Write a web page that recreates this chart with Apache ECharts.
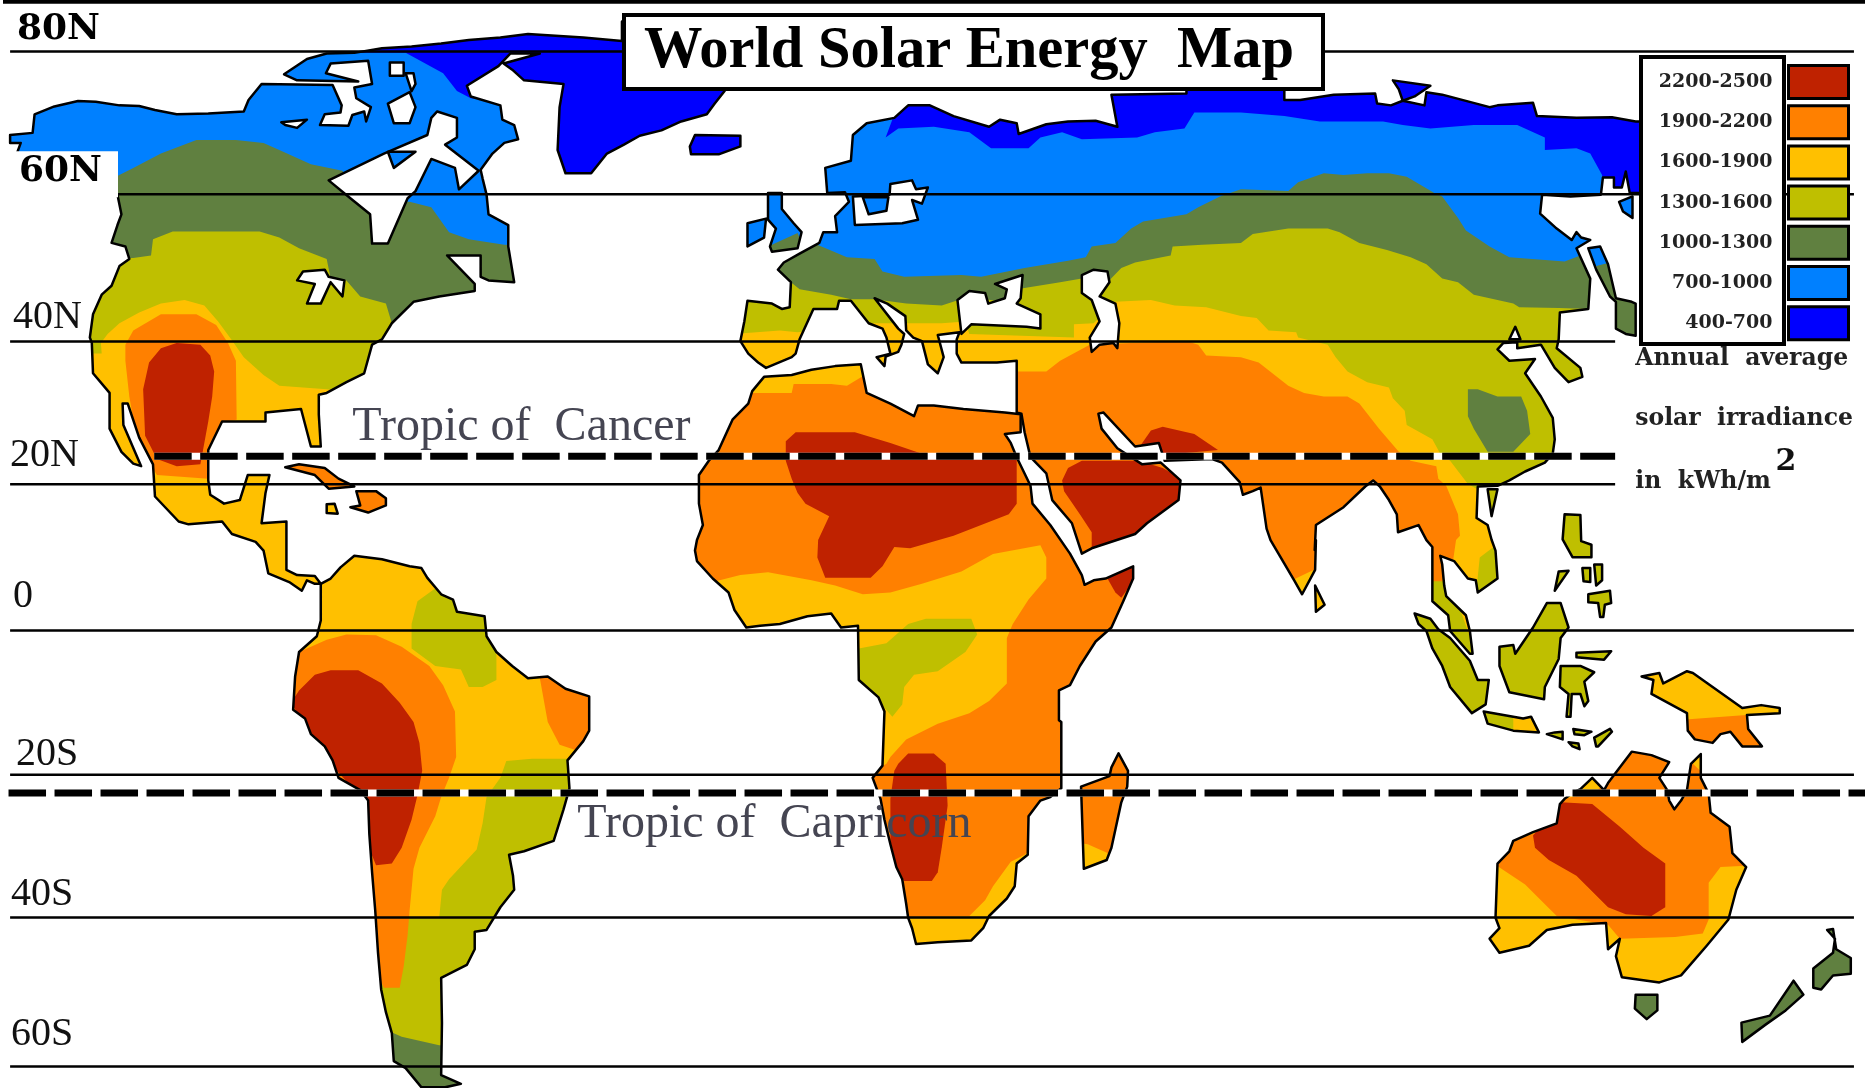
<!DOCTYPE html>
<html><head><meta charset="utf-8"><style>html,body{margin:0;padding:0;background:#fff}#c{width:1865px;height:1088px}</style>
<script src="https://cdn.jsdelivr.net/npm/echarts@6/dist/echarts.min.js"></script></head>
<body><div id="c"></div>
<script>
// Traced map sheet units: x 0..4717, y 0..3046. T() joins traced tiles into one sheet.
const T=(c,r,a)=>{const o=[];for(let i=0;i<a.length;i+=2)o.push([[0,1568,3136][c]+a[i],r?1512+a[i+1]*0.979:a[i+1]]);return o;};

const classNames=['2200-2500','1900-2200','1600-1900','1300-1600','1000-1300','700-1000','400-700'];
const parallelValues=[144,544,956,1356,1765,2169,2569,2986];
const parallelLabels=['80N','60N','40N','20N','0','20S','40S','60S'];
const parallelEnds=[4689,4689,4084,4084,4689,4689,4689,4689];
const tropicNames=['Tropic of Cancer','Tropic of Capricorn'];
const tropicValues=[1277,2220];

// Coastlines
const naCoast=[...T(0,0,[18,378,75,372,80,320,130,298,190,283,235,285,295,295,345,297,385,308,440,320,520,318,610,312,622,280,655,235,835,238,858,295,855,315,815,320,803,350,875,352,885,322,915,312,920,340,932,300,895,275,890,245,935,235,925,170,830,178,818,205,900,228,745,225,712,208,770,165,820,150,890,148,960,135,1035,130,1110,122,1180,112,1260,105,1330,95,1470,105,1568,115]),
 ...T(1,0,[0,110,0,60,240,60,260,255,235,290,215,320,150,340,100,365,45,380,5,405]),
 ...T(0,0,[1530,430,1490,485,1425,485,1405,420,1410,300,1420,235,1320,225,1290,195,1268,178,1360,150,1285,150,1255,185,1175,240,1185,270,1260,295,1265,335,1295,350,1305,390,1270,400,1240,430,1210,475,1215,500,1225,545,1230,600,1280,630,1280,690,1295,790,1230,785,1210,775,1210,715,1125,715,1195,795,1195,815,1105,830,1040,845,985,905,960,950,935,965,915,1045,870,1070,820,1100,800,1105,800,1160,805,1250,780,1250,755,1145,665,1155,665,1180,555,1180,520,1260,520,1345,525,1385,560,1410,600,1400,620,1330,675,1330,665,1380,655,1465,718,1460]),
 ...T(0,1,[718,85,745,100,790,103,805,125,790,125,770,115,757,145,725,120,672,95,660,30,640,5]),
 ...T(0,0,[580,1495,555,1460,470,1468,445,1460,385,1390,380,1300,345,1225,316,1130,303,1130,305,1190,350,1305,330,1298,300,1265,270,1200,270,1100,228,1045,225,960,220,945,228,880,250,825,275,800,295,745,320,725,310,690,275,680,290,630,300,600,290,545,240,500,30,445,45,400,18,400])];
const saCoast=T(0,1,[805,125,830,110,855,78,890,45,960,55,1030,75,1060,80,1075,108,1110,155,1140,170,1150,205,1220,218,1225,275,1250,320,1290,360,1330,395,1380,390,1425,425,1485,447,1485,545,1470,575,1430,630,1435,710,1420,770,1395,860,1320,890,1282,900,1292,960,1295,1000,1260,1050,1225,1115,1195,1120,1195,1170,1175,1215,1110,1252,1112,1380,1110,1530,1160,1555,1120,1565,1060,1565,1020,1510,990,1490,985,1410,970,1350,958,1285,950,1180,943,1060,935,950,928,840,925,745,905,715,850,680,835,630,815,590,780,555,765,510,735,485,740,390,750,320,795,275,805,230]);
const africaCoast=[...T(1,0,[360,1055,430,1050,480,1035,540,1025,605,1020,620,1100,680,1130,740,1165,750,1135,790,1135,865,1145,970,1155,1010,1160,1010,1210,970,1215,985,1240,1000,1280,1035,1360,1040,1410,1085,1470,1135,1550]),
 ...T(1,1,[1165,100,1172,128,1195,115,1225,110,1295,75,1295,110,1270,175,1240,250,1200,290,1160,360,1135,415,1107,430,1107,515,1113,520,1113,710,1085,735,1060,745,1030,790,1028,900,1000,925,995,990,975,1025,930,1075,915,1110,885,1145,800,1150,745,1155,735,1110,725,1080,720,1040,710,970,695,935,680,870,665,800,655,740,635,680,660,645,665,490,650,450,600,400,598,245,555,250,530,210,470,218,400,240,350,245,315,250,285,200,270,150,230,110,190,60,185,30,190,0]),
 ...T(1,0,[205,1470,195,1410,195,1330,220,1290,245,1260,280,1175,320,1130,330,1095])];
const eurasiaCoast=[...T(1,0,[520,540,515,470,580,450,585,378,620,345,690,330,725,295,780,295,840,325,930,355,958,335,1000,345,1005,375,1075,348,1130,340,1200,338,1255,355,1240,265,1430,262,1430,200]),
 ...T(2,0,[110,200,110,280,150,280,235,265,340,262,345,290,380,295,410,282,465,295,470,258,510,265,630,300,650,295,740,288,750,325,850,330,940,328,1000,340,1100,340,1100,540,985,540,975,480,965,525,945,525,945,497,917,497,912,545,835,550,763,545,758,598,800,640,838,672,850,650,862,665,885,672,850,695,885,780,880,865,808,875,805,950,800,975,860,1030,865,1055,830,1070,795,1030,760,965,700,975,700,958,665,960,650,978,680,1010,745,1005,720,1045,760,1110,790,1170,795,1230,790,1270,770,1295,720,1320,680,1345,650,1360,600,1362,597,1450,625,1470,635,1511]),
 ...T(2,1,[645,30,650,110,600,150,595,115,575,110,540,60,505,45,510,70,515,130,520,160,570,215,580,260,587,325,580,325,530,260,525,215,485,175,485,20,470,0]),
 ...T(2,0,[450,1470,398,1490,395,1440,375,1400,352,1362,335,1345,315,1362,260,1420,190,1470,187,1540]),
 ...T(2,1,[190,0,188,85,155,155,135,115,75,0]),
 ...T(2,0,[65,1480,50,1365,30,1375,5,1385]),
 ...T(1,0,[1565,1350,1520,1295,1495,1285,1375,1290,1360,1240,1300,1250,1220,1155,1207,1158,1215,1200,1255,1255,1318,1300,1365,1295,1415,1345,1410,1400,1330,1465,1300,1495,1190,1535,1165,1550,1140,1465,1090,1400,1075,1325,1035,1280,1020,1210,1012,1158,1000,1155,1000,1010,950,1015,860,1015,848,990,848,950,855,930,800,938,815,1000,800,1045,775,1020,760,955,738,945,720,925,718,885,672,850,640,835,700,920,715,935,708,965,700,985,668,998,665,1025,645,1000,680,990,670,945,660,920,625,905,580,842,550,842,545,865,485,865,450,950,440,990,430,1000,365,1030,345,1015,320,990,300,955,310,900,318,842,380,850,405,865,425,860,428,790,395,755,410,735,450,710,500,680,510,650,545,650,540,605,575,565,565,538])];
const greatBritain=T(1,0,[370,540,405,540,405,585,435,625,455,650,445,695,380,705,375,690,390,640,370,615]);
const ireland=T(1,0,[318,625,365,612,360,665,318,690]);
const iceland=T(1,0,[185,378,300,380,300,410,245,432,175,432,172,410]);
const severnaya=T(2,0,[385,225,480,240,440,270,410,282,400,250]);
const kuril=T(2,0,[958,565,992,550,992,610,968,592]);
const japan=T(2,0,[880,695,910,690,930,740,950,835,990,845,1000,850,1000,940,975,935,950,920,950,845,935,830,900,755]);
const taiwan=T(2,0,[625,1370,650,1370,635,1445]);
const cuba=T(0,0,[715,1308,750,1300,815,1310,850,1340,890,1362,825,1368,790,1330]);
const hispaniola=T(0,0,[895,1375,945,1375,970,1395,970,1415,925,1435,880,1420,905,1415]);
const jamaica=T(0,0,[820,1412,840,1410,848,1438,820,1436]);
const madagascar=T(1,1,[1258,610,1282,660,1280,705,1265,750,1240,880,1228,915,1170,940,1163,705,1235,675,1240,650]);
const sriLanka=T(2,1,[188,130,212,185,190,205]);
const sumatra=T(2,1,[440,210,480,225,500,255,530,280,580,345,600,400,628,400,620,470,585,495,530,420,510,360,485,310,470,260,450,240]);
const borneo=T(2,1,[775,180,810,180,830,250,810,280,805,340,770,420,768,455,680,435,655,360,655,305,690,300,695,325,740,250]);
const sulawesi=T(2,1,[810,360,860,360,895,378,870,405,880,460,870,475,860,440,838,440,835,505,825,505,830,440,808,420]);
const java=T(2,1,[615,490,665,500,715,510,735,505,755,550,690,545,625,525]);
const lesserIslands=[T(2,1,[795,550,815,548,815,570,775,555]),T(2,1,[842,540,888,548,870,558,845,555]),T(2,1,[900,590,895,565,935,540,940,548,905,590]),T(2,1,[830,578,855,582,858,598,840,590]),T(2,1,[850,322,938,318,920,342,850,335])];
const philippines=[T(2,0,[820,1440,860,1442,862,1515,888,1525,888,1560,840,1560,815,1510]),T(2,1,[880,155,935,145,938,180,922,185,918,220,910,220,905,180,880,178]),T(2,1,[865,80,885,80,885,120,868,118]),T(2,1,[895,70,915,70,915,115,900,130]),T(2,1,[805,90,830,88,795,145])];
const papua=T(2,1,[1015,390,1060,380,1070,410,1130,375,1145,380,1270,480,1318,472,1365,480,1365,495,1282,500,1285,540,1320,590,1270,590,1240,548,1215,555,1195,580,1150,570,1132,545,1130,495,1040,440,1045,400]);
const australia=T(2,1,[820,740,808,755,800,810,740,835,690,860,680,890,650,925,645,1080,655,1110,630,1140,655,1180,730,1160,775,1115,840,1100,925,1095,930,1170,960,1140,950,1190,965,1250,1060,1265,1115,1245,1180,1160,1235,1085,1255,1000,1280,935,1245,895,1238,820,1190,780,1185,725,1165,680,1165,612,1140,640,1130,715,1115,745,1098,770,1085,745,1080,715,1060,680,1085,635,1040,615,990,605,950,665,930,695,920,715,890,680,860,712,845,720]);
const tasmania=T(2,1,[1000,1300,1055,1300,1055,1345,1028,1370,998,1340]);
const newZealand=[T(2,1,[1268,1380,1340,1360,1400,1260,1425,1300,1380,1345,1330,1385,1270,1435]),T(2,1,[1450,1225,1500,1180,1505,1140,1485,1115,1500,1112,1508,1170,1545,1195,1545,1240,1500,1245,1470,1285,1450,1280])];

// Inland water
const lakes=[
 T(0,0,[825,505,965,430,1075,378,1085,330,1100,312,1150,330,1150,385,1120,405,1205,478,1155,530,1145,470,1085,445,1045,535,1025,555,975,682,935,682,930,600,880,555]),
 T(0,0,[975,290,1030,258,1045,300,1030,345,990,345]),
 T(0,0,[1020,205,1040,205,1045,235,1035,255]),
 T(0,0,[980,175,1015,175,1015,212,980,212]),
 T(0,0,[705,342,770,335,745,358,715,350]),
 T(0,0,[745,785,760,760,815,755,825,775,865,785,860,830,830,790,805,850,770,850,790,795]),
 T(1,0,[585,550,590,630,710,625,750,615,735,560,760,570,775,525,745,530,735,505,680,515,678,545]),
 T(1,0,[850,840,880,815,920,820,928,850,970,835,975,810,945,795,1015,770,1010,835,1000,850,1060,880,1060,920,1025,915,885,908,860,935]),
 T(1,0,[1165,770,1195,755,1230,760,1235,790,1210,830,1250,850,1260,905,1255,975,1245,960,1210,965,1190,985,1185,945,1210,900,1190,840,1165,820]),
 T(2,0,[680,950,695,915,708,950])];
const lakeIslands=[T(0,0,[975,425,1045,425,990,470]),T(1,0,[610,552,675,552,670,590,625,600])];

// Irradiance zones, painted inside their coast, cold to hot
const zone400=[[naCoast,naCoast],[eurasiaCoast,eurasiaCoast],[iceland,iceland],[severnaya,severnaya]];
const zone700=[
 [naCoast,T(0,0,[0,300,800,148,1020,148,1115,205,1150,255,1185,275,1400,300,1400,1900,0,1900])],
 [eurasiaCoast,[...T(1,0,[500,300,690,320,668,385,700,360,790,355,880,370,935,415,1030,415,1060,385,1115,370,1165,390,1305,385,1350,370,1425,360,1450,315,1568,315]),...T(2,0,[110,325,200,340,360,340,410,350,480,360,590,350,700,350,770,385,770,420,850,415,885,430,915,490,917,545,1100,545,1100,1800]),...T(1,0,[400,1800,400,300])]],
 [greatBritain,greatBritain],[ireland,ireland],[kuril,kuril],
 [japan,T(2,0,[860,680,930,680,935,745,860,745])],
 [saCoast,T(0,1,[1112,1528,1170,1528,1170,1570,1112,1570])]];
const zone1000=[
 [naCoast,T(0,0,[100,495,286,495,330,470,400,430,490,392,590,392,660,400,700,420,780,460,860,478,900,560,1030,565,1085,580,1130,650,1180,670,1270,685,1400,690,1400,1900,100,1900])],
 [eurasiaCoast,[...T(1,0,[400,700,495,685,570,720,640,725,660,760,715,775,860,770,910,775,1020,750,1130,730,1175,720,1190,690,1250,680,1290,640,1320,620,1430,600,1460,580,1515,550,1568,530]),...T(2,0,[120,535,145,510,210,485,260,490,320,485,375,485,420,495,490,540,510,550,550,610,570,645,630,690,680,720,820,732,860,715,1100,715,1100,1800]),...T(1,0,[400,1800])]],
 [greatBritain,T(1,0,[370,690,445,652,470,720,370,720])],
 [japan,T(2,0,[900,745,935,735,1010,735,1010,950,900,950])],
 [saCoast,saCoast],[tasmania,tasmania],[newZealand[0],newZealand[0]],[newZealand[1],newZealand[1]]];
const zone1300=[
 [naCoast,T(0,0,[100,730,330,722,375,715,380,670,430,648,650,648,700,665,750,695,820,725,830,780,870,785,905,830,970,850,985,905,1100,1000,1100,1900,100,1900])],
 [eurasiaCoast,[...T(1,0,[300,790,428,790,450,810,530,825,580,838,640,838,720,850,810,855,880,830,960,845,1000,810,1110,790,1165,780,1230,790,1265,750,1300,735,1390,715,1395,690,1470,685,1568,680]),...T(2,0,[30,655,120,640,220,640,250,650,300,680,370,700,430,720,470,740,510,780,550,790,590,825,690,850,705,860,805,862,880,865,1100,860,1100,1800]),...T(1,0,[300,1800])]],
 [saCoast,T(0,1,[800,1395,960,1395,1010,1420,1105,1445,1300,1445,1600,1000,1600,0,700,0])],
 [sumatra,sumatra],[borneo,borneo],[sulawesi,sulawesi],[java,java],[taiwan,taiwan],
 ...lesserIslands.map(p=>[p,p]),...philippines.map(p=>[p,p])];
const zone1600=[
 [naCoast,T(0,0,[100,990,225,990,250,990,248,960,265,935,295,905,345,875,400,850,460,840,510,855,545,900,578,950,610,1000,660,1050,700,1080,820,1090,900,1100,900,1900,100,1900])],
 [eurasiaCoast,[...T(1,0,[280,935,400,925,445,930,640,905,720,905,810,905,870,900,880,935,1145,945,1145,908,1195,905,1250,845,1340,840,1400,855,1480,860,1568,885]),...T(2,0,[40,890,70,925,140,930,145,945,220,965,240,1000,270,1040,320,1070,375,1085,385,1115,415,1150,420,1190,485,1230,505,1270,530,1290,575,1355,597,1368,700,1500,800,1900,0,1900]),...T(1,0,[280,1800])]],
 [saCoast,T(0,1,[1500,625,1340,625,1275,632,1260,680,1225,735,1215,810,1200,885,1130,970,1112,1000,1105,1080,1030,1080,1000,1000,700,1100,700,0,1500,0])],
 [papua,papua],[australia,australia],[sriLanka,sriLanka],[jamaica,jamaica],
 [java,T(2,1,[690,500,760,500,760,560,690,560])]];
const zone1900=[
 [naCoast,T(0,0,[310,1010,310,965,330,925,400,880,490,880,540,910,570,960,590,1010,592,1175,560,1180,530,1250,520,1340,390,1330,340,1240,320,1110])],
 [eurasiaCoast,[...T(1,0,[900,1040,1075,1040,1110,1010,1185,965,1290,960,1430,955,1460,965,1480,995,1568,1000]),...T(2,0,[45,1015,120,1080,160,1100,210,1110,270,1110,300,1130,350,1200,400,1265,430,1290,495,1305,500,1340,520,1360,550,1440,555,1500]),...T(2,1,[545,0,538,55,515,60,510,125,470,130,300,100,185,85,135,112,60,60]),...T(1,0,[900,1700])]],
 [saCoast,T(0,1,[700,350,750,320,820,285,870,270,945,272,1010,305,1080,360,1115,415,1145,490,1148,620,1130,680,1110,735,1095,790,1055,880,1040,940,1030,1060,1025,1130,1015,1220,1005,1280,965,1280,930,1200,700,800])],
 [saCoast,T(0,1,[1360,395,1380,380,1425,410,1500,440,1500,545,1450,600,1410,585,1380,520])],
 [africaCoast,africaCoast],[madagascar,madagascar],[cuba,cuba],[hispaniola,hispaniola],
 [papua,T(2,1,[1100,515,1280,500,1285,540,1340,610,1100,610])],
 [australia,T(2,1,[740,840,800,810,808,755,820,740,900,720,1000,590,1100,590,1200,700,1300,930,1215,935,1185,980,1185,1085,1170,1125,1100,1135,960,1140,930,1100,800,1075,720,985,640,925,690,860])]];
const zone2200=[
 [naCoast,T(0,0,[355,1090,370,1015,400,975,440,960,500,965,525,995,535,1040,530,1110,520,1180,505,1270,500,1300,440,1305,390,1285,360,1220])],
 [eurasiaCoast,T(1,0,[1115,1345,1130,1310,1165,1290,1310,1290,1370,1310,1425,1345,1425,1400,1330,1480,1300,1510,1190,1545,1190,1490,1160,1440,1120,1375])],
 [eurasiaCoast,T(1,0,[1315,1245,1340,1205,1370,1195,1450,1215,1510,1260,1360,1275,1300,1270])],
 [saCoast,T(0,1,[750,430,790,385,830,372,900,372,960,410,1005,465,1040,520,1055,580,1062,660,1050,730,1035,800,1010,880,985,925,945,930,920,860,915,745,870,690,830,640,805,590,760,520,730,465])],
 [africaCoast,[...T(1,0,[415,1235,440,1210,590,1210,680,1240,760,1270,1000,1285,1000,1410,980,1440,840,1500,730,1535]),...T(1,1,[690,20,660,75,630,108,515,108,495,50,497,0]),...T(1,0,[525,1445,465,1410,445,1380,430,1340,415,1290])]],
 [africaCoast,T(1,1,[1230,110,1300,70,1300,110,1265,165,1250,150])],
 [africaCoast,T(1,1,[700,640,725,610,790,610,820,640,825,760,810,880,800,950,785,975,715,975,695,930,680,860,680,740,690,660])],
 [australia,T(2,1,[740,845,810,750,890,755,960,820,1020,880,1075,925,1075,1050,1040,1075,975,1070,930,1050,850,960,780,915,745,880])]];
// Cooler pockets that sit on top of hotter ground
const innerYellow=[
 [africaCoast,T(1,0,[300,1100,430,1100,435,1075,530,1075,570,1080,615,1050,620,1000,300,1000])],
 [africaCoast,T(1,1,[230,120,300,100,370,92,480,115,540,130,610,155,680,150,760,125,860,90,940,40,1060,15,1075,50,1075,110,1030,170,990,240,975,280,975,410,930,460,880,495,800,525,720,570,680,620,670,640,640,660,580,400,240,300])],
 [africaCoast,T(1,1,[930,1075,880,1075,920,1030,940,990,985,920,1020,900,1040,880,1040,1200,700,1200,700,1078])],
 [madagascar,T(1,1,[1150,865,1180,870,1230,895,1240,950,1150,950])]];
const innerOlive=[
 [africaCoast,T(1,1,[600,310,670,295,725,240,770,225,885,225,900,270,870,320,800,375,740,385,715,420,710,470,685,505,650,460,590,400])],
 [saCoast,T(0,1,[1050,175,1105,130,1130,160,1160,195,1240,220,1240,280,1250,330,1250,400,1215,420,1180,420,1160,370,1095,360,1035,310,1035,240])],
 [eurasiaCoast,T(2,1,[470,118,530,118,600,340,470,340])],
 [eurasiaCoast,T(2,1,[605,50,640,20,670,20,670,160,595,160])]];
const innerGreen=[[eurasiaCoast,T(2,0,[575,1090,600,1090,650,1110,710,1110,725,1150,733,1215,690,1265,625,1265,590,1200,575,1165])]];

const classColors=['#BF2200','#FF8000','#FFC000','#BFBF00','#608040','#0080FF','#0000FF'];
const allCoasts=[naCoast,saCoast,africaCoast,eurasiaCoast,greatBritain,ireland,iceland,severnaya,kuril,japan,taiwan,cuba,hispaniola,jamaica,madagascar,sriLanka,sumatra,borneo,sulawesi,java,...lesserIslands,...philippines,papua,australia,tasmania,...newZealand];

const px=(api,pts)=>pts.map(p=>api.coord(p));
function zoneSeries(name,color,list){
 return {type:'custom',name,coordinateSystem:'cartesian2d',silent:true,z:2,itemStyle:{color},
  data:list.map((_,i)=>[i,0]),
  renderItem:(p,api)=>{const [land,shape]=list[p.dataIndex];
   return {type:'polygon',shape:{points:px(api,shape)},style:{fill:color},
    clipPath:{type:'polygon',shape:{points:px(api,land)}}};}};
}
function outlineSeries(name,list,fill,z){
 return {type:'custom',name,coordinateSystem:'cartesian2d',silent:true,z,
  data:list.map((_,i)=>[i,0]),
  renderItem:(p,api)=>({type:'polygon',shape:{points:px(api,list[p.dataIndex])},
   style:{fill,stroke:'#000',lineWidth:2.5,lineJoin:'round'}})};
}
const parallelData=[];
parallelValues.forEach((v,i)=>{parallelData.push([18,v],[parallelEnds[i],v],['-','-']);});
const labelKeys=['a','b','c','d','e','f','g','h'];
const serifReg={fontFamily:'Liberation Serif',fontSize:40,color:'#111',lineHeight:40};
const serifBold={fontFamily:'DejaVu Serif',fontWeight:'bold',fontSize:36,color:'#000',lineHeight:40};

const chart=echarts.init(document.getElementById('c'),null,{renderer:'canvas'});
chart.setOption({
 animation:false,backgroundColor:'#fff',
 title:{text:'World Solar Energy  Map',left:624,top:15,z:20,borderColor:'#000',borderWidth:4,backgroundColor:'#fff',padding:[7,29,8,20],
  textStyle:{fontFamily:'Liberation Serif',fontWeight:'bold',fontSize:58.5,color:'#000'}},
 grid:{left:0,right:0,top:0,bottom:0,containLabel:false},
 legend:{data:classNames,orient:'vertical',align:'right',right:10,top:59,z:30,itemWidth:60,itemHeight:33,itemGap:4.2,icon:'rect',selectedMode:false,
  itemStyle:{borderColor:'#000',borderWidth:3},
  textStyle:{fontFamily:'DejaVu Serif',fontWeight:'bold',fontSize:19,lineHeight:22,color:'#222',padding:[0,11,0,0]}},
 xAxis:{type:'value',min:0,max:4717,show:false},
 yAxis:{type:'value',min:0,max:3046,inverse:true,z:10,axisLine:{show:false},splitLine:{show:false},
  axisTick:{show:false,customValues:parallelValues},
  axisLabel:{inside:true,margin:0,align:'left',verticalAlign:'bottom',customValues:parallelValues,showMinLabel:true,showMaxLabel:true,
   formatter:v=>{const i=parallelValues.indexOf(v);return '{'+labelKeys[i]+'|'+parallelLabels[i]+'}';},
   rich:{a:{...serifBold,padding:[0,0,4,14]},b:{...serifBold,backgroundColor:'#fff',padding:[2,16,8,16]},
    c:{...serifReg,padding:[0,0,7,10]},d:{...serifReg,padding:[0,0,17,7]},e:{...serifReg,padding:[0,0,28,10]},
    f:{...serifReg,padding:[0,0,0,13]},g:{...serifReg,padding:[0,0,6,8]},h:{...serifReg,padding:[0,0,25,8]}}}},
 graphic:{elements:[{type:'rect',left:1639,top:55,z:25,shape:{width:143,height:287},style:{fill:'#fff',stroke:'#000',lineWidth:4}}]},
 series:[
  zoneSeries(classNames[6],classColors[6],zone400),
  zoneSeries(classNames[5],classColors[5],zone700),
  zoneSeries(classNames[4],classColors[4],zone1000),
  zoneSeries(classNames[3],classColors[3],zone1300),
  zoneSeries(classNames[2],classColors[2],zone1600),
  zoneSeries(classNames[1],classColors[1],zone1900),
  zoneSeries(classNames[0],classColors[0],zone2200),
  zoneSeries(classNames[2],classColors[2],innerYellow),
  zoneSeries(classNames[3],classColors[3],innerOlive),
  zoneSeries(classNames[4],classColors[4],innerGreen),
  outlineSeries('Coastline',allCoasts,'none',3),
  outlineSeries('Inland water',lakes,'#fff',4),
  outlineSeries('Islands in water',lakeIslands,classColors[5],5),
  {type:'line',name:'Parallels',silent:true,z:6,symbol:'none',data:parallelData,lineStyle:{color:'#000',width:2.5}},
  {type:'line',name:'Frame',silent:true,z:6,symbol:'none',data:[[0,5],[4717,5]],lineStyle:{color:'#000',width:4}},
  {type:'line',name:'Tropic gaps',silent:true,z:7,symbol:'none',data:[[383,tropicValues[0]],[4084,tropicValues[0]],['-','-'],[14,tropicValues[1]],[4717,tropicValues[1]]],lineStyle:{color:'#fff',width:7}},
  {type:'line',name:'Tropics',silent:true,z:8,symbol:'none',data:[[383,tropicValues[0]],[4084,tropicValues[0]],['-','-'],[14,tropicValues[1]],[4717,tropicValues[1]]],lineStyle:{color:'#000',width:7,type:[37.5,8.5]}},
  {type:'scatter',name:'Tropic names',silent:true,z:9,symbolSize:0,itemStyle:{opacity:1},
   data:[[885,1197],[1455,2307]].map((v,i)=>({value:v,name:tropicNames[i]})),
   label:{show:true,position:'right',distance:0,opacity:1,formatter:p=>p.name.replace(' of ',' of  '),fontFamily:'Liberation Serif',fontSize:48,color:'#454552'}},
  {type:'scatter',name:'Notes',silent:true,z:9,symbolSize:0,itemStyle:{opacity:1},
   data:[{value:[4135,1005],name:'Annual  average'},{value:[4135,1172],name:'solar  irradiance'},{value:[4135,1350],name:'in  kWh/m'}],
   label:{show:true,position:'right',distance:0,opacity:1,formatter:p=>p.name,fontFamily:'DejaVu Serif',fontWeight:'bold',fontSize:23.5,color:'#222'}},
  {type:'scatter',name:'Power',silent:true,z:9,symbolSize:0,itemStyle:{opacity:1},data:[{value:[4490,1295],name:'2'}],
   label:{show:true,position:'right',distance:0,opacity:1,formatter:p=>p.name,fontFamily:'DejaVu Serif',fontWeight:'bold',fontSize:30,color:'#111'}}
 ]
});
</script></body></html>
